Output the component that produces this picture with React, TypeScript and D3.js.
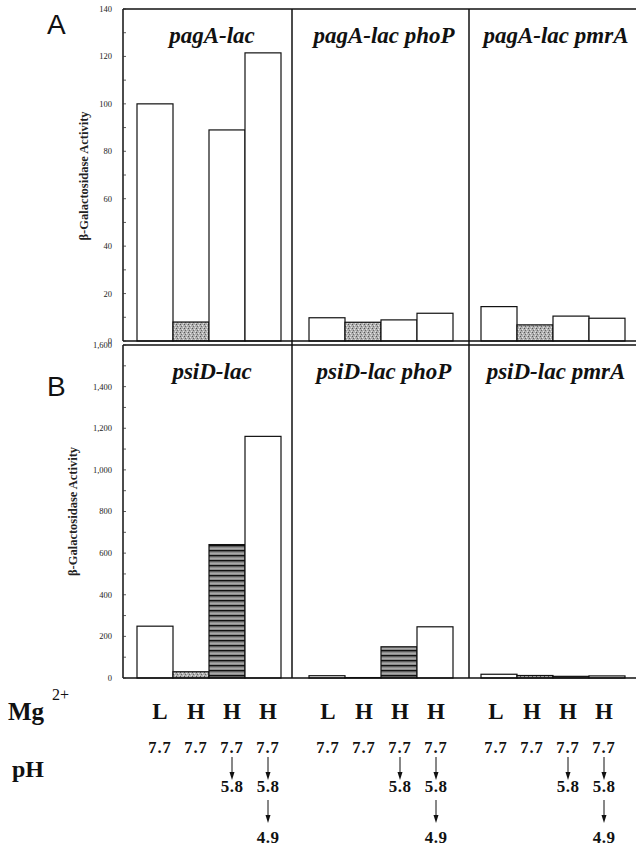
import React from "react";
import * as d3 from "d3";

// A: pagA-lac fusions, B: psiD-lac fusions
const pagATitles = ["pagA-lac", "pagA-lac phoP", "pagA-lac pmrA"];
const psiDTitles = ["psiD-lac", "psiD-lac phoP", "psiD-lac pmrA"];

const pagAValues = [
  [100, 8, 89, 121.5],
  [9.8, 7.9, 8.9, 11.7],
  [14.5, 6.8, 10.5, 9.6],
];
const psiDValues = [
  [249, 30, 641, 1161],
  [11, 2, 150, 246],
  [18, 12, 8, 10],
];

const pagAFills = ["white", "stipple", "white", "white"];
const psiDFills = ["white", "stipple", "stripes", "white"];

const mgLevels = ["L", "H", "H", "H"];
const pHSteps = [["7.7"], ["7.7"], ["7.7", "5.8"], ["7.7", "5.8", "4.9"]];

const pagATicks = [0, 20, 40, 60, 80, 100, 120, 140];
const psiDTicks = [0, 200, 400, 600, 800, 1000, 1200, 1400, 1600];

const W = 636;
const H = 847;
const panelEdges = [123, 292, 469, 636];
const barInset = [14, 17, 12];
const barWidth = 36;
const labelNudge = [5, 1, -3];
// baselines of the pH rows and the arrows between them
const pHBaselines = [753, 792, 843];
const arrowSpans = [
  [757, 780],
  [800, 823],
];
const serif = "'Liberation Serif', 'Times New Roman', serif";

const fillOf = (f: string) =>
  f === "stipple" ? "url(#stipple)" : f === "stripes" ? "url(#stripes)" : "#fff";

const xScales = panelEdges.slice(0, 3).map((left, i) =>
  d3
    .scaleBand<number>()
    .domain([0, 1, 2, 3])
    .range([left + barInset[i], left + barInset[i] + barWidth * 4])
    .paddingInner(0)
);

function Block({
  titles,
  values,
  fills,
  ticks,
  max,
  top,
  bottom,
  letter,
  letterY,
  ylabelX,
  ylabelDy,
  minorStep,
}: {
  titles: string[];
  values: number[][];
  fills: string[];
  ticks: number[];
  max: number;
  top: number;
  bottom: number;
  letter: string;
  letterY: number;
  ylabelX: number;
  ylabelDy: number;
  minorStep: number;
}) {
  const y = d3.scaleLinear().domain([0, max]).range([bottom, top]);
  const minor = d3.range(0, max + 0.001, minorStep);
  const fmt = d3.format(",");
  return (
    <g>
      {values.map((vals, p) =>
        vals.map((v, i) => (
          <rect
            key={`${p}-${i}`}
            x={xScales[p](i)}
            y={y(v)}
            width={xScales[p].bandwidth()}
            height={bottom - y(v)}
            fill={fillOf(fills[i])}
            stroke="#111"
            strokeWidth={1.2}
          />
        ))
      )}
      <line x1={panelEdges[0]} x2={W} y1={top} y2={top} stroke="#111" strokeWidth={1.5} />
      <line x1={panelEdges[0]} x2={W} y1={bottom} y2={bottom} stroke="#111" strokeWidth={1.5} />
      <line x1={panelEdges[0]} x2={panelEdges[0]} y1={top} y2={bottom} stroke="#111" strokeWidth={1.5} />
      {minor.map((t) => (
        <line key={t} x1={panelEdges[0]} x2={panelEdges[0] + 3} y1={y(t)} y2={y(t)} stroke="#333" strokeWidth={0.8} />
      ))}
      {ticks.map((t) => (
        <text
          key={t}
          x={112}
          y={y(t)}
          dy="0.35em"
          textAnchor="end"
          fontFamily={serif}
          fontSize={8.5}
          fill="#222"
        >
          {fmt(t)}
        </text>
      ))}
      <text
        transform={`translate(${ylabelX},${(top + bottom) / 2 + ylabelDy}) rotate(-90)`}
        textAnchor="middle"
        fontFamily={serif}
        fontWeight="bold"
        fontSize={12.5}
        fill="#222"
      >
        β-Galactosidase Activity
      </text>
      {titles.map((t, p) => (
        <text
          key={t}
          x={(xScales[p].range()[0] + xScales[p].range()[1]) / 2 + 3}
          y={top + 34}
          textAnchor="middle"
          fontFamily={serif}
          fontWeight="bold"
          fontStyle="italic"
          fontSize={23}
          fill="#111"
        >
          {t}
        </text>
      ))}
      <text x={47} y={letterY} fontFamily="'Liberation Sans', Arial, sans-serif" fontSize={28} fill="#111">
        {letter}
      </text>
    </g>
  );
}

export default function App() {
  return (
    <svg width={W} height={H} style={{ position: "absolute", left: 0, top: 0, background: "#fff" }}>
      <defs>
        <pattern id="stipple" width={4} height={4} patternUnits="userSpaceOnUse">
          <rect width={4} height={4} fill="#b0b0b0" />
          <rect x={0} y={0} width={1} height={1} fill="#555" />
          <rect x={2} y={1} width={1} height={1} fill="#e6e6e6" />
          <rect x={1} y={2} width={1} height={1} fill="#6a6a6a" />
          <rect x={3} y={3} width={1} height={1} fill="#ddd" />
        </pattern>
        <pattern id="stripes" width={6} height={5} patternUnits="userSpaceOnUse">
          <rect width={6} height={5} fill="#8c8c8c" />
          <rect x={0} y={0} width={6} height={1.4} fill="#111" />
          <rect x={0} y={3} width={6} height={0.6} fill="#bbb" />
        </pattern>
      </defs>

      <Block
        titles={pagATitles}
        values={pagAValues}
        fills={pagAFills}
        ticks={pagATicks}
        max={140}
        top={9}
        bottom={341}
        letter="A"
        letterY={34}
        ylabelX={88}
        ylabelDy={1}
        minorStep={10}
      />
      <Block
        titles={psiDTitles}
        values={psiDValues}
        fills={psiDFills}
        ticks={psiDTicks}
        max={1600}
        top={345}
        bottom={678}
        letter="B"
        letterY={396}
        ylabelX={77}
        ylabelDy={0}
        minorStep={100}
      />

      {panelEdges.slice(1, 3).map((x) => (
        <line key={x} x1={x} x2={x} y1={9} y2={678} stroke="#111" strokeWidth={1.5} />
      ))}

      <text x={8} y={720} fontFamily={serif} fontWeight="bold" fontSize={25} fill="#111">
        Mg
      </text>
      <text x={52} y={700} fontFamily={serif} fontSize={16} fill="#111">
        2+
      </text>
      <text x={12} y={777} fontFamily={serif} fontWeight="bold" fontSize={24} fill="#111">
        pH
      </text>

      {xScales.map((xs, p) =>
        mgLevels.map((m, i) => {
          const cx = xs(i)! + xs.bandwidth() / 2 + labelNudge[p];
          const steps = pHSteps[i];
          return (
            <g key={`${p}-${i}`}>
              <text x={cx} y={719} textAnchor="middle" fontFamily={serif} fontWeight="bold" fontSize={23} fill="#111">
                {m}
              </text>
              {steps.map((s, k) => (
                <g key={k}>
                  {k > 0 && (
                    <g>
                      <line
                        x1={cx}
                        x2={cx}
                        y1={arrowSpans[k - 1][0]}
                        y2={arrowSpans[k - 1][1] - 6}
                        stroke="#111"
                        strokeWidth={1}
                      />
                      <path
                        d={`M${cx - 2.5},${arrowSpans[k - 1][1] - 8} L${cx + 2.5},${arrowSpans[k - 1][1] - 8} L${cx},${arrowSpans[k - 1][1]} Z`}
                        fill="#111"
                      />
                    </g>
                  )}
                  <text
                    x={cx}
                    y={pHBaselines[k]}
                    textAnchor="middle"
                    fontFamily={serif}
                    fontWeight="bold"
                    fontSize={k === 0 ? 16.5 : 17}
                    fill="#111"
                    letterSpacing={k === 0 ? 1 : 0.5}
                  >
                    {s}
                  </text>
                </g>
              ))}
            </g>
          );
        })
      )}
    </svg>
  );
}
